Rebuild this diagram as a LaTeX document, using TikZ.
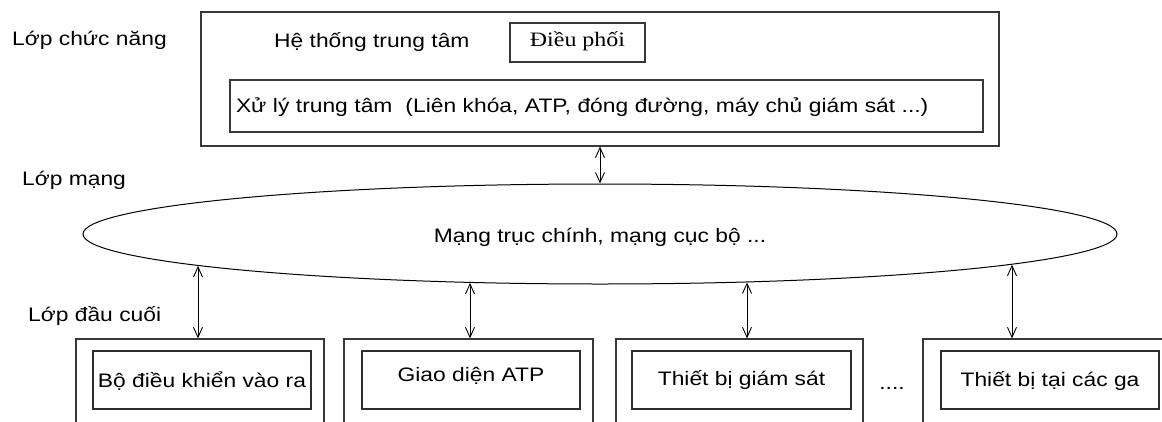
\documentclass[tikz,border=0pt]{standalone}
\usepackage{fontspec}
\setmainfont{Liberation Sans}[FakeStretch=1.17]
\newfontfamily\serifvn{Liberation Serif}[FakeStretch=1.17]
\usetikzlibrary{shapes.geometric,arrows.meta,calc}
\begin{document}
\begin{tikzpicture}[x=1pt,y=-1pt,
  font=\fontsize{19.5}{22}\selectfont,
  box/.style={draw=black!78, line width=1.2pt, rectangle, inner sep=0pt, text depth=0pt},
  inbox/.style={draw=black!82, line width=1.1pt, rectangle, inner sep=0pt, minimum width=218pt, minimum height=58pt, text depth=0pt},
  outbox/.style={draw=black!78, line width=1.2pt, rectangle, inner sep=0pt, minimum height=121pt},
  lbl/.style={anchor=base west, inner sep=0pt},
  tip/.tip={Straight Barb[length=10pt,width=9pt]},
  link/.style={tip-tip, line width=0.9pt, black}
]
\useasboundingbox (0,0) rectangle (1162,421);
\clip (0,0) rectangle (1162,421);
\fill[white] (0,0) rectangle (1162,421);

% functional layer
\node[lbl] (l1) at (12,45) {Lớp chức năng};
\node[box, minimum width=798pt, minimum height=134pt] (top) at (600,79) {};
\node[lbl] (ht) at (274,47) {Hệ thống trung tâm};
\node[box, minimum width=135pt, minimum height=39pt, text height=8pt,
      font=\serifvn\fontsize{20.5}{24}\selectfont] (dp) at (577.5,42.5) {Điều phối};
\node[box, text width=741pt, inner xsep=6pt, minimum height=52pt, text height=12pt, align=left]
      (xl) at (606.5,106) {Xử lý trung tâm~~(Liên khóa, ATP, đóng đường, máy chủ giám sát ...)};

% network layer
\node[lbl] (l2) at (22,185.7) {Lớp mạng};
\node[draw=black, ellipse, line width=1pt, minimum width=1034pt, minimum height=100pt,
      inner sep=0pt, text height=16pt, text depth=0pt] (net) at (600,234)
      {Mạng trục chính, mạng cục bộ ...\hspace{16pt}};

% terminal layer
\node[lbl] (l3) at (28,321) {Lớp đầu cuối};
\node[outbox, minimum width=248pt] (o1) at (200,399.5) {};
\node[outbox, minimum width=249pt] (o2) at (468.5,399.5) {};
\node[outbox, minimum width=247pt] (o3) at (739.5,399.5) {};
\node[outbox, minimum width=248pt] (o4) at (1047,399.5) {};
\node[inbox, text height=14pt] (i1) at (202,380) {Bộ điều khiển vào ra};
\node[inbox, text height=3.4pt] (i2) at (471,380) {Giao diện ATP\hspace{23pt}};
\node[inbox, minimum width=219pt, text height=10pt] (i3) at (741.5,380) {Thiết bị giám sát\hspace{13pt}};
\node[inbox, text height=12pt] (i4) at (1050,380) {Thiết bị tại các ga};
\node[anchor=base, inner sep=0pt] (dots) at (892,389) {....};

% points where the links meet the ellipse
\coordinate (e1) at ($(net.center)+(-402,31.9)$);
\coordinate (e2) at ($(net.center)+(-130,48.9)$);
\coordinate (e3) at ($(net.center)+(147,48.4)$);
\coordinate (e4) at ($(net.center)+(412,30.7)$);

% connectors
\draw[link] (top.south) -- (net.north);
\draw[link] (e1) -- (e1 |- o1.north);
\draw[link] (e2) -- (e2 |- o2.north);
\draw[link] (e3) -- (e3 |- o3.north);
\draw[link] (e4) -- (e4 |- o4.north);
\end{tikzpicture}
\end{document}
